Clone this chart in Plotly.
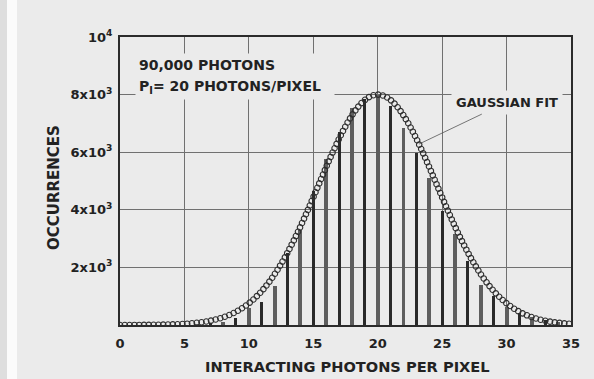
import numpy as np
import plotly.graph_objects as go

# Histogram of interacting photons per pixel
interacting_photons = list(range(6, 35))
occurrences = [15, 45, 120, 250, 580, 800, 1350, 2500, 3300, 4650,
               5750, 6700, 7550, 7850, 8000, 7600, 6850, 5980, 5100, 3950,
               3150, 2220, 1400, 990, 640, 410, 270, 170, 110]

# Gaussian fit parameters
fit_peak = 8000.0
fit_center = 20.0
fit_sigma = 4.6
fit_x_range = (0.0, 35.0)

# Axis ticks
x_ticks = [0, 5, 10, 15, 20, 25, 30, 35]
y_ticks = [2000, 4000, 6000, 8000, 10000]
y_tick_labels = ["2x10<sup>3</sup>", "4x10<sup>3</sup>", "6x10<sup>3</sup>",
                 "8x10<sup>3</sup>", "10<sup>4</sup>"]

# Figure geometry
W, H = 594, 379
ML, MR, MT, MB = 120, 23, 37, 54
X_MAX, Y_MAX = 35, 10000
px_per_x = (W - ML - MR) / X_MAX
px_per_y = (H - MT - MB) / Y_MAX

PAPER = "#ebebeb"
INK = "#222222"
FONT = "DejaVu Sans"


def gaussian(x):
    return fit_peak * np.exp(-((x - fit_center) ** 2) / (2 * fit_sigma ** 2))


# Place the fit symbols at an even on-screen spacing along the curve
xs = np.linspace(fit_x_range[0], fit_x_range[1], 7001)
seg = np.hypot(np.diff(xs) * px_per_x, np.diff(gaussian(xs)) * px_per_y)
arc = np.concatenate([[0.0], np.cumsum(seg)])
fit_x = np.interp(np.arange(0, arc[-1], 4.8), arc, xs)
fit_y = gaussian(fit_x)

bar_colors = ["#5e5e5e" if k % 2 == 0 else "#2a2a2a" for k in interacting_photons]
bar_widths = [0.30 if k % 2 == 0 else 0.23 for k in interacting_photons]

fig = go.Figure()
fig.add_trace(go.Bar(
    x=interacting_photons, y=occurrences,
    width=bar_widths, marker=dict(color=bar_colors, line=dict(width=0)),
    showlegend=False, hoverinfo="x+y",
))
fig.add_trace(go.Scatter(
    x=fit_x, y=fit_y, mode="markers",
    marker=dict(symbol="circle-open", size=5.5, color="#2e2e2e",
                line=dict(width=1.1, color="#2e2e2e")),
    showlegend=False, hoverinfo="skip",
))

font_bold = dict(family=FONT, size=13, color=INK, weight="bold")

fig.update_xaxes(
    range=[0, X_MAX], tickvals=x_ticks, ticks="",
    showgrid=True, gridcolor="#707070", gridwidth=1,
    showline=True, mirror=True, linecolor="#2b2b2b", linewidth=2,
    zeroline=False, tickfont=font_bold, ticklabelstandoff=5,
)
fig.update_yaxes(
    range=[0, Y_MAX], tickvals=y_ticks, ticktext=y_tick_labels, ticks="",
    showgrid=True, gridcolor="#707070", gridwidth=1,
    showline=True, mirror=True, linecolor="#2b2b2b", linewidth=2,
    zeroline=False, tickfont=font_bold, ticklabelstandoff=3,
)

pw = W - ML - MR
ph = H - MT - MB
annotations = [
    dict(text="INTERACTING PHOTONS PER PIXEL", xref="paper", yref="paper",
         x=(347 - ML) / pw, y=(H - MB - 366) / ph, xanchor="center", yanchor="middle",
         showarrow=False, font=dict(family=FONT, size=14.6, color=INK, weight="bold")),
    dict(text="OCCURRENCES", xref="paper", yref="paper",
         x=(54 - ML) / pw, y=(H - MB - 188) / ph, xanchor="center", yanchor="middle",
         textangle=-90, showarrow=False,
         font=dict(family=FONT, size=15, color=INK, weight="bold")),
    dict(text="90,000 PHOTONS", xref="paper", yref="paper",
         x=(135 - ML) / pw, y=(H - MB - 65) / ph, xanchor="left", yanchor="middle",
         align="left", width=192, borderpad=3, bgcolor=PAPER, showarrow=False,
         font=dict(family=FONT, size=14, color=INK, weight="bold")),
    dict(text="P<sub>I</sub>= 20 PHOTONS/PIXEL", xref="paper", yref="paper",
         x=(135 - ML) / pw, y=(H - MB - 87) / ph, xanchor="left", yanchor="middle",
         align="left", width=192, borderpad=3, bgcolor=PAPER, showarrow=False,
         font=dict(family=FONT, size=14, color=INK, weight="bold")),
    dict(text="GAUSSIAN FIT", x=23.2, y=float(gaussian(23.2)), xref="x", yref="y",
         ax=88, ay=-42, showarrow=True, arrowhead=0, arrowwidth=0.8,
         arrowcolor="#555555", standoff=0, bgcolor=PAPER, borderpad=4,
         font=dict(family=FONT, size=13, color=INK, weight="bold")),
]

# Scanned page edge strips on the left
shapes = [
    dict(type="rect", xref="paper", yref="paper", layer="below",
         x0=-ML / pw, x1=(7 - ML) / pw, y0=-MB / ph, y1=(H - MB) / ph,
         fillcolor="#dedede", line=dict(width=0)),
    dict(type="rect", xref="paper", yref="paper", layer="below",
         x0=(7 - ML) / pw, x1=(17 - ML) / pw, y0=-MB / ph, y1=(H - MB) / ph,
         fillcolor="#fbfbfb", line=dict(width=0)),
]

fig.update_layout(
    width=W, height=H, margin=dict(l=ML, r=MR, t=MT, b=MB),
    paper_bgcolor=PAPER, plot_bgcolor=PAPER,
    annotations=annotations, shapes=shapes,
    bargap=0, font=dict(family=FONT, color=INK),
)

fig.write_html("out.html")
